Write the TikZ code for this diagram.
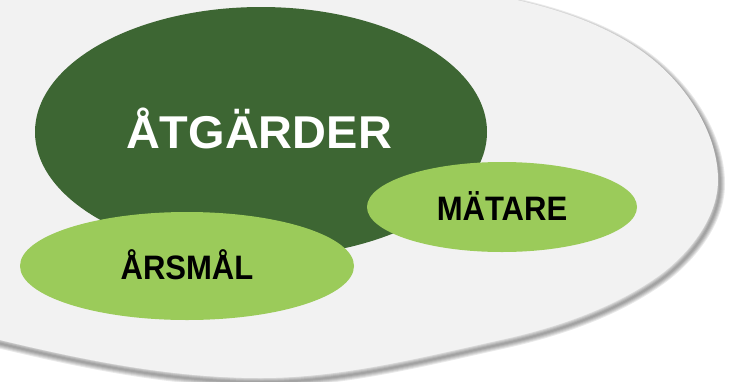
\documentclass[tikz,border=0pt]{standalone}
\usepackage{fontspec}
\setmainfont{Liberation Sans}
\usetikzlibrary{shapes.geometric}
\definecolor{bggray}{RGB}{242,242,242}
\definecolor{darkgreen}{RGB}{61,102,51}
\definecolor{lightgreen}{RGB}{155,203,90}
\newcommand{\grayshape}{(0,340)
 .. controls (85.6,360.5) and (172,378) .. (260,378)
 .. controls (341,378) and (421,357.4) .. (500,340)
 .. controls (554.7,328) and (611.1,309.1) .. (657,277)
 .. controls (688.1,255.2) and (718,218) .. (718,180)
 .. controls (718,136) and (690.3,91.8) .. (657,63)
 .. controls (618.4,29.6) and (566.7,11.4) .. (517,0)
 .. controls (429,-20) and (340,-42) .. (250,-42)
 .. controls (120,-42) and (-160,0) .. (-160,120)
 .. controls (-160,250) and (-87.6,319) .. (0,340) -- cycle}
\tikzset{
  blob/.style={ellipse, draw=none, inner sep=0pt},
  bigtxt/.style={anchor=base, text=white, font=\bfseries\fontsize{46}{46}\selectfont},
  smalltxt/.style={anchor=base, text=black, font=\bfseries\fontsize{32}{32}\selectfont}
}
\begin{document}
\begin{tikzpicture}[x=1pt,y=-1pt]
\useasboundingbox (0,0) rectangle (734,381);
\begin{scope}
  \clip (0,0) rectangle (734,381);
  \begin{scope}[shift={(2,4)}]
    \foreach \w in {2,4,6,8,10}{
      \draw[black, opacity=0.085, line width=\w pt, line join=round] \grayshape;
    }
  \end{scope}
  \fill[bggray] \grayshape;
\end{scope}
\node[blob, fill=darkgreen, minimum width=452pt, minimum height=250pt] (atg) at (261,132) {};
\node[blob, fill=lightgreen, minimum width=334pt, minimum height=108pt] (ars) at (187,266) {};
\node[blob, fill=lightgreen, minimum width=270pt, minimum height=90pt] (mat) at (502,207) {};
\node[bigtxt] (atgtxt) at (259,148) {\scalebox{1.02}[1]{ÅTGÄRDER}};
\node[smalltxt] (mattxt) at (502,220) {\scalebox{0.97}[1.06]{MÄTARE}};
\node[smalltxt] (arstxt) at (187,279) {\scalebox{0.97}[1.06]{ÅRSMÅL}};
\end{tikzpicture}
\end{document}
